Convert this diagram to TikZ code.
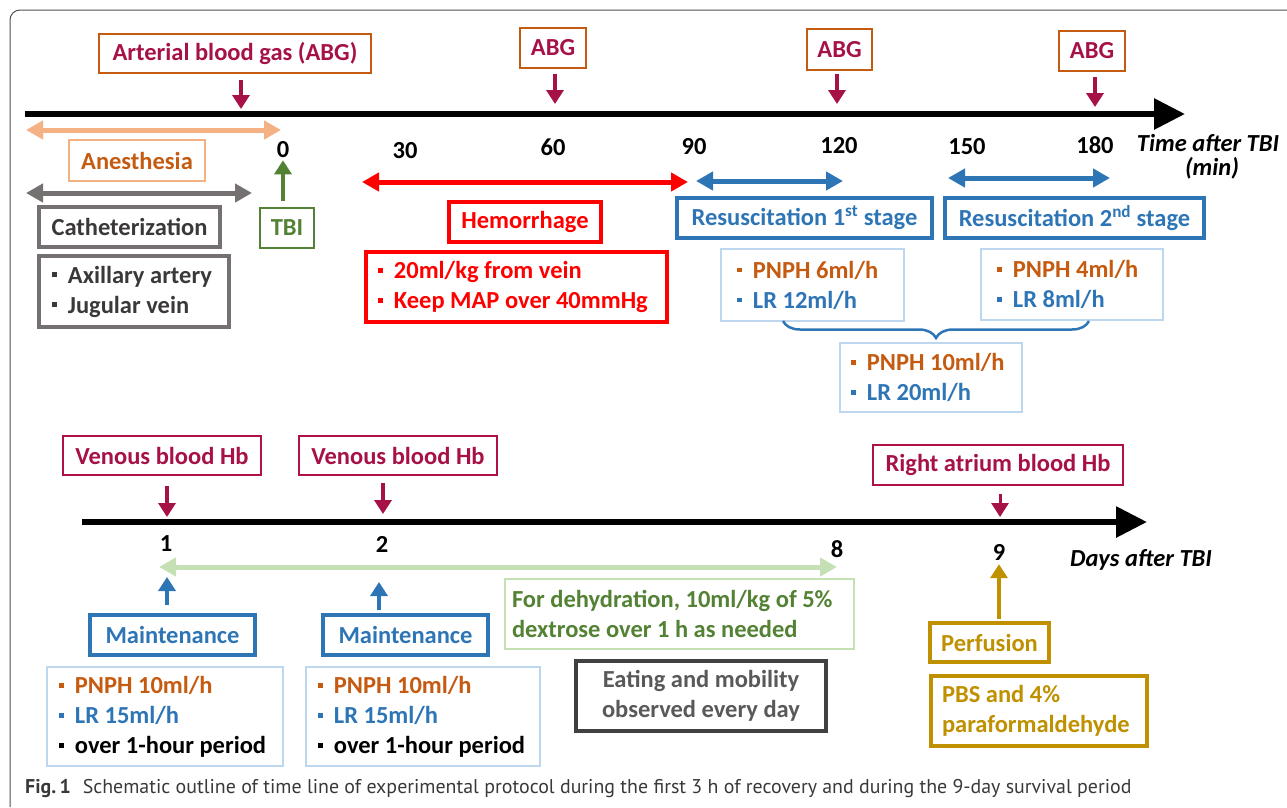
\documentclass[tikz,border=0pt]{standalone}
\usepackage{fontspec}
\setmainfont{Carlito}
\newfontfamily\capfont{PT Sans}
\usetikzlibrary{arrows.meta,decorations.pathreplacing}
\definecolor{abgred}{RGB}{166,17,72}
\definecolor{abgline}{RGB}{197,90,17}
\definecolor{peach}{RGB}{244,177,131}
\definecolor{catgray}{RGB}{118,113,113}
\definecolor{cattext}{RGB}{59,56,56}
\definecolor{tbigreen}{RGB}{84,130,53}
\definecolor{resblue}{RGB}{46,117,182}
\definecolor{lightblue}{RGB}{189,215,238}
\definecolor{lightgreen}{RGB}{197,224,180}
\definecolor{gold}{RGB}{191,144,0}
\definecolor{hbred}{RGB}{176,16,74}
\definecolor{eatline}{RGB}{64,64,64}
\definecolor{eattext}{RGB}{89,89,89}
\newcommand{\bx}{\fontsize{24.5}{30}\selectfont\bfseries\hyphenpenalty=10000}
\newcommand{\sq}{\rule[0.23em]{0.2em}{0.2em}\hspace{0.45em}}
\tikzstyle{markbox} = [rectangle, draw, line width=2.5pt, inner sep=0pt,
    align=center, font=\bx]
\tikzstyle{listbox} = [markbox, align=flush left, inner xsep=10pt]
\tikzstyle{ticklbl} = [font=\bx, inner sep=0pt]
\tikzstyle{pinarrow} = [line width=4pt, -{Triangle[length=14pt,width=17pt]}]
\tikzstyle{spanarrow} = [line width=5pt,
    {Triangle[length=17pt,width=18pt]}-{Triangle[length=17pt,width=18pt]}]
\tikzstyle{timeaxis} = [line width=6pt, -{Triangle[length=31pt,width=30pt]}]
\begin{document}
\begin{tikzpicture}[x=1pt,y=-1pt]
\useasboundingbox (0,0) rectangle (1287,807);
\draw [catgray!70!black, line width=1pt, rounded corners=10pt]
   (10,807) -- (10,10) -- (1287,10);

% first 3 hours
\coordinate (hstart) at (25,114);
\coordinate (hend) at (1185,114);
\draw [timeaxis] (hstart) -- (hend);

\node [markbox, draw=abgline, text=abgred, minimum width=272, minimum height=39]
   (abg0) at (235,53.5) {Arterial blood gas (ABG)};
\node [markbox, draw=abgline, text=abgred, minimum width=66, minimum height=40]
   (abg60) at (553,48) {ABG};
\node [markbox, draw=abgline, text=abgred, minimum width=65, minimum height=41]
   (abg120) at (839.5,49.5) {ABG};
\node [markbox, draw=abgline, text=abgred, minimum width=66, minimum height=40]
   (abg180) at (1092,51) {ABG};
\coordinate (p0) at (241,109);
\coordinate (p60) at (555,104);
\coordinate (p120) at (837,104);
\coordinate (p180) at (1095,107);
\draw [pinarrow, abgred, shorten <=6pt] (abg0.south -| p0) -- (p0);
\draw [pinarrow, abgred, shorten <=5pt] (abg60.south -| p60) -- (p60);
\draw [pinarrow, abgred, shorten <=3pt] (abg120.south -| p120) -- (p120);
\draw [pinarrow, abgred, shorten <=5pt] (abg180.south -| p180) -- (p180);

\node [ticklbl] (t0) at (283,150) {0};
\node [ticklbl] (t30) at (405,151) {30};
\node [ticklbl] (t60) at (553,147) {60};
\node [ticklbl] (t90) at (694,147) {90};
\node [ticklbl] (t120) at (839,146) {120};
\node [ticklbl] (t150) at (967,147) {150};
\node [ticklbl] (t180) at (1095,145) {180};
\node [ticklbl, font=\bx\itshape] (hunit) at (1208,143) {Time after TBI};
\node [ticklbl, font=\bx\itshape] (hmin) at (1212,168) {(min)};

% anesthesia and catheterization
\coordinate (anl) at (26,130);
\coordinate (anr) at (281,130);
\draw [spanarrow, peach] (anl) -- (anr);
\node [markbox, draw=peach, text=abgline, minimum width=136, minimum height=41]
   (anes) at (137,160.5) {Anesthesia};
\coordinate (cal) at (26,193);
\coordinate (car) at (252,193);
\draw [spanarrow, catgray] (cal) -- (car);
\node [markbox, draw=catgray, text=cattext, line width=3.5pt, minimum width=181,
   minimum height=40] (cath) at (129.5,227) {Catheterization};
\node [listbox, draw=catgray, text=cattext, line width=3.5pt, inner xsep=13pt,
   text width=164, minimum height=71] (site) at (134,291.5)
   {\sq Axillary artery\\\sq Jugular vein};

% injury
\node [markbox, draw=tbigreen, text=tbigreen, minimum width=54, minimum height=40]
   (tbi) at (287,228) {TBI};
\draw [pinarrow, tbigreen, shorten <=6pt, shorten >=2pt] (tbi.north -| t0) -- (t0.south);

% hemorrhage
\coordinate (hel) at (362,182);
\coordinate (her) at (688,182);
\draw [spanarrow, red] (hel) -- (her);
\node [markbox, draw=red, text=red, line width=3.5pt, minimum width=152, minimum height=40]
   (hem) at (525,222) {Hemorrhage};
\node [listbox, draw=red, text=red, line width=3.5pt, inner xsep=12pt, text width=277,
   minimum height=70] (hemlist) at (516.5,287) {\sq 20ml/kg from vein\\\sq Keep MAP over 40mmHg};

% resuscitation
\coordinate (r1l) at (696,181);
\coordinate (r1r) at (843,181);
\draw [spanarrow, resblue] (r1l) -- (r1r);
\node [markbox, draw=resblue, text=resblue, line width=3.5pt, minimum width=255,
   minimum height=40] (res1) at (804.5,218) {Resuscitation 1\textsuperscript{st} stage};
\coordinate (r2l) at (948,178);
\coordinate (r2r) at (1110,178);
\draw [spanarrow, resblue] (r2l) -- (r2r);
\node [markbox, draw=resblue, text=resblue, line width=3.5pt, minimum width=259,
   minimum height=40] (res2) at (1074.5,218) {Resuscitation 2\textsuperscript{nd} stage};
\node [listbox, draw=lightblue, inner xsep=16pt, text width=151, minimum height=72]
   (dose1) at (812.5,285) {\textcolor{abgline}{\sq PNPH 6ml/h}\\\textcolor{resblue}{\sq LR 12ml/h}};
\node [listbox, draw=lightblue, inner xsep=16pt, text width=150, minimum height=71]
   (dose2) at (1072,284.5) {\textcolor{abgline}{\sq PNPH 4ml/h}\\\textcolor{resblue}{\sq LR 8ml/h}};
\coordinate (brr) at (1089,321);
\coordinate (brl) at (783,321);
\draw [resblue, line width=2.5pt, decorate, decoration={brace, amplitude=17pt}]
   (brr) -- (brl);
\node [listbox, draw=lightblue, inner xsep=11pt, text width=160, minimum height=69]
   (dosesum) at (931,377.5) {\textcolor{abgline}{\sq PNPH 10ml/h}\\\textcolor{resblue}{\sq LR 20ml/h}};

% days after injury
\coordinate (dstart) at (82,522);
\coordinate (dend) at (1147,522);
\draw [timeaxis] (dstart) -- (dend);

\node [markbox, draw=hbred, text=abgred, minimum width=198, minimum height=39]
   (vb1) at (162,455.5) {Venous blood Hb};
\node [markbox, draw=hbred, text=abgred, minimum width=198, minimum height=39]
   (vb2) at (398,455.5) {Venous blood Hb};
\node [markbox, draw=hbred, text=abgred, minimum width=250, minimum height=40]
   (rahb) at (998,465) {Right atrium blood Hb};
\coordinate (q1) at (167,517);
\coordinate (q2) at (383,514);
\coordinate (q9) at (1000,517);
\draw [pinarrow, abgred, shorten <=10pt] (vb1.south -| q1) -- (q1);
\draw [pinarrow, abgred, shorten <=7pt] (vb2.south -| q2) -- (q2);
\draw [pinarrow, abgred, line width=3pt, shorten <=8pt] (rahb.south -| q9) -- (q9);

\node [ticklbl] (d1) at (166,544) {1};
\node [ticklbl] (d2) at (382,544) {2};
\node [ticklbl] (d8) at (837,549) {8};
\node [ticklbl] (d9) at (999,552) {9};
\node [ticklbl, font=\bx\itshape] (dunit) at (1141,560) {Days after TBI};

\coordinate (gl) at (159,567);
\coordinate (gr) at (837,567);
\draw [spanarrow, lightgreen] (gl) -- (gr);

% maintenance
\node [markbox, draw=resblue, text=resblue, line width=3.5pt, minimum width=165,
   minimum height=40] (main1) at (172.5,635) {Maintenance};
\node [markbox, draw=resblue, text=resblue, line width=3.5pt, minimum width=165,
   minimum height=40] (main2) at (405.5,635) {Maintenance};
\coordinate (u1) at (167,577);
\coordinate (u2) at (379,582);
\draw [pinarrow, resblue, shorten <=8pt] (main1.north -| u1) -- (u1);
\draw [pinarrow, resblue, shorten <=3pt] (main2.north -| u2) -- (u2);
\node [listbox, draw=lightblue, inner xsep=12pt, text width=212, minimum height=99]
   (keep1) at (165,716.5) {\textcolor{abgline}{\sq PNPH 10ml/h}\\\textcolor{resblue}{\sq LR 15ml/h}\\\sq over 1-hour period};
\node [listbox, draw=lightblue, inner xsep=12pt, text width=210, minimum height=99]
   (keep2) at (423,716.5) {\textcolor{abgline}{\sq PNPH 10ml/h}\\\textcolor{resblue}{\sq LR 15ml/h}\\\sq over 1-hour period};

\node [listbox, draw=lightgreen, text=tbigreen, inner xsep=7pt, text width=335,
   minimum height=70] (dehyd) at (679.5,614)
   {For dehydration, 10ml/kg of 5\%\\dextrose over 1 h as needed};
\node [markbox, draw=eatline, text=eattext, line width=3.5pt, minimum width=250,
   minimum height=70] (eat) at (701,696) {Eating and mobility\\observed every day};

% perfusion
\node [markbox, draw=gold, text=gold, line width=3.5pt, minimum width=119,
   minimum height=39] (perf) at (989.5,642.5) {Perfusion};
\draw [pinarrow, gold, line width=3.5pt, shorten <=2pt, shorten >=4pt] (perf.north -| d9) -- (d9.south);
\node [listbox, draw=gold, text=gold, line width=3.5pt, inner xsep=11pt, text width=194,
   minimum height=70] (pbs) at (1039,711) {PBS and 4\%\\paraformaldehyde};

\node [anchor=west, inner sep=0pt, text=cattext, font=\capfont\fontsize{19.9}{22}\selectfont]
   (cap) at (25,789) {\textbf{Fig.\,1}\hspace{0.6em}Schematic outline of time line of experimental protocol during the first 3 h of recovery and during the 9-day survival period};
\end{tikzpicture}
\end{document}
